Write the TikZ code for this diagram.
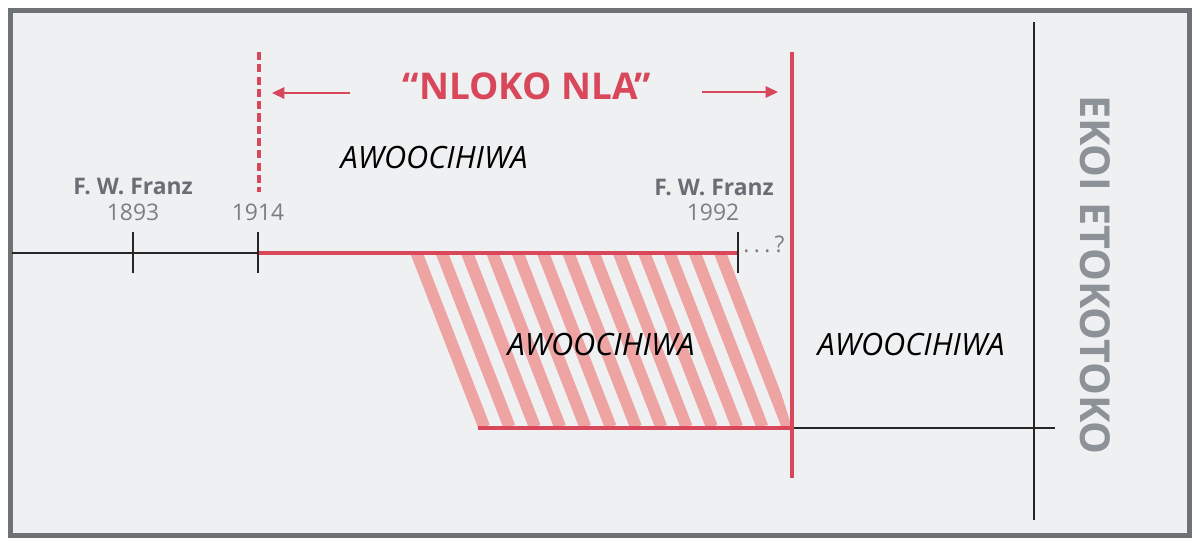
\documentclass[tikz,border=0pt]{standalone}
\usepackage{fontspec}
\setsansfont{Open Sans}
\usepackage{tikz}
\usetikzlibrary{arrows.meta, positioning, calc}
\definecolor{erared}{RGB}{216,72,90}
\definecolor{stripered}{RGB}{238,164,163}
\definecolor{panelgray}{RGB}{239,240,242}
\definecolor{framegray}{RGB}{110,114,117}
\definecolor{labelgray}{RGB}{104,110,116}
\definecolor{yeargray}{RGB}{120,126,132}
\definecolor{sidegray}{RGB}{140,146,152}
\tikzset{
  frame/.style={draw=framegray, fill=panelgray, line width=2.8pt},
  blackline/.style={draw=black!85, line width=1.2pt},
  redline/.style={draw=erared, line width=2.3pt},
  reddash/.style={draw=erared, line width=2pt, dash pattern=on 4.6pt off 2.4pt},
  tickline/.style={draw=black!85, line width=1.2pt},
  stripe/.style={draw=stripered, line width=6.8pt},
  redarrow/.style={-{Triangle[length=7pt, width=6.5pt]}, draw=erared, fill=erared, line width=0.9pt},
  titlelbl/.style={font=\sffamily\bfseries\fontsize{21}{24}\selectfont, text=erared, inner sep=0pt},
  namelbl/.style={font=\sffamily\bfseries\fontsize{13}{15}\selectfont, text=labelgray, inner sep=0pt},
  yearlbl/.style={font=\sffamily\fontsize{13}{15}\selectfont, text=yeargray, inner sep=0pt},
  eralbl/.style={font=\sffamily\itshape\fontsize{17.5}{20}\selectfont, text=black, inner sep=0pt},
  sidelbl/.style={font=\sffamily\bfseries\fontsize{23.5}{26}\selectfont, text=sidegray, inner sep=0pt}
}
\begin{document}
\begin{tikzpicture}[x=0.02cm, y=-0.02cm]
  \useasboundingbox (0,0) rectangle (1200,547);
  % Panel
  \draw[frame] (10.5,10.5) rectangle (1189.5,535.5);

  % Points on the time lines
  \coordinate (lstart) at (12,253);
  \coordinate (t1893) at (133,253);
  \coordinate (t1914) at (258,253);
  \coordinate (t1992) at (738,253);
  \coordinate (hatchtl) at (410,253);
  \coordinate (hatchbl) at (478,428);
  \coordinate (split) at (792,428);
  \coordinate (lowend) at (1055,428);
  \coordinate (redtop) at (792,52);
  \coordinate (redbot) at (792,478);
  \coordinate (dashtop) at (259,52);
  \coordinate (dashbot) at (259,192);
  \coordinate (endtop) at (1034,22);
  \coordinate (endbot) at (1034,520);

  % Hatched band
  \begin{scope}
    \clip (hatchtl) -- (t1992) -- (split) -- (hatchbl) -- cycle;
    \foreach \i in {0,...,12}
      \draw[stripe] (411.5+25.3*\i,240) -- ++(72.7,187);
  \end{scope}

  % Upper time line
  \draw[blackline] (lstart) -- (t1914);
  \draw[redline] (t1914) -- (t1992);
  \draw[tickline] ($(t1893)+(0,-21)$) -- ($(t1893)+(0,20)$);
  \draw[tickline] ($(t1914)+(0,-21)$) -- ($(t1914)+(0,20)$);
  \draw[tickline] ($(t1992)+(0,-21)$) -- ($(t1992)+(0,20)$);

  % Lower time line
  \draw[redline] (hatchbl) -- (split);
  \draw[blackline] (split) -- (lowend);

  % Verticals
  \draw[reddash] (dashtop) -- (dashbot);
  \draw[redline] (redtop) -- (redbot);
  \draw[blackline] (endtop) -- (endbot);

  % Title with arrows
  \node[titlelbl] (nloko) at (527,86) {“NLOKO NLA”};
  \coordinate (larrow) at (350,93);
  \coordinate (larrowtip) at (272,93);
  \coordinate (rarrow) at (702,92);
  \coordinate (rarrowtip) at (778,92);
  \draw[redarrow] (larrow) -- (larrowtip);
  \draw[redarrow] (rarrow) -- (rarrowtip);

  % Labels
  \node[namelbl] (franzA) at (133,186) {F. W. Franz};
  \node[yearlbl] (y1893) at (133,212) {1893};
  \node[yearlbl] (y1914) at (258,212) {1914};
  \node[namelbl] (franzB) at (714,187) {F. W. Franz};
  \node[yearlbl] (y1992) at (713,212) {1992};
  \node[yearlbl, anchor=base west] (unknown) at (743,253) {.\kern2.5pt.\kern2.5pt.\kern2.5pt?};

  \node[eralbl] (eraA) at (434,158) {AWOOCIHIWA};
  \node[eralbl] (eraB) at (601,345) {AWOOCIHIWA};
  \node[eralbl] (eraC) at (911,345) {AWOOCIHIWA};

  \node[sidelbl, rotate=-90] (side) at (1095,275) {EKOI ETOKOTOKO};
\end{tikzpicture}
\end{document}
